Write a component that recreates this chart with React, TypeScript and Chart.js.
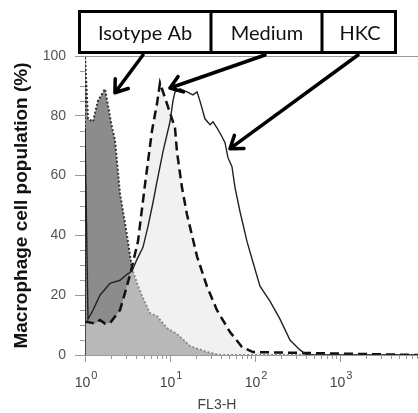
import React, { useEffect, useRef } from "react";
import { Chart, registerables } from "chart.js";

Chart.register(...registerables);

// ---- Data (FL3-H fluorescence vs % of macrophage population) ----
const isotypeX = [1, 1, 1.085, 1.24, 1.42, 1.72, 2.08, 2.25, 2.58, 3.12, 3.57, 4.09, 4.81, 5.82, 7.03, 9.22, 12.1, 17.2, 27.2, 38.7, 8280];
const isotypeY = [0, 100, 79, 78, 85, 89, 76, 72, 54, 40, 29, 24, 19, 14, 13, 9, 7, 3, 1, 0, 0];

const mediumX = [1, 1.085, 1.31, 1.5, 1.72, 1.97, 2.58, 2.95, 3.38, 4.2, 5.08, 6.14, 7.03, 7.63, 9.22, 11.45, 12.08, 13.84, 15.85, 20.8, 27.2, 35.7, 50.8, 70.3, 94.7, 8280];
const mediumY = [11, 11, 10.5, 11.7, 10.5, 10.7, 15, 20.7, 26.7, 38, 57, 75, 84, 91, 84, 76, 68, 56, 47, 33, 23, 15, 7.7, 2.7, 1, 0];

const hkcX = [1, 1, 1.085, 1.242, 1.5, 1.72, 1.97, 2.58, 3.12, 3.57, 4.09, 4.81, 5.51, 6.31, 7.03, 8.27, 10, 10.84, 11.45, 13.11, 15.85, 18.6, 20.8, 22.5, 25.8, 29.6, 32.1, 35.7, 40.9, 44.4, 48.1, 53.6, 58.2, 66.6, 80.5, 94.7, 114.5, 150, 197, 258, 338, 409, 8280];
const hkcY = [0, 76, 12, 15, 20, 22, 24, 25, 27, 28, 32, 36, 43, 51, 58, 68, 78, 85, 88, 89, 88, 87, 88, 85, 79, 77, 78, 76, 73, 71, 66, 63, 56, 48, 38, 31, 23, 18, 12, 5, 1.7, 0, 0];

const legendLabels = ["Isotype Ab", "Medium", "HKC"];
const arrowTargetX = [2.25, 10, 50.8];
const arrowTargetY = [87.7, 89.3, 69];

const xMajorTicks = [1, 10, 100, 1000];
const xTickExponents = ["0", "1", "2", "3"];
const yMin = 0;
const yMax = 100;
const xMin = 1;
const xMax = 8280;

const pts = (xs: number[], ys: number[]) => xs.map((x, i) => ({ x, y: ys[i] }));

const SANS = "'Liberation Sans', Arial, sans-serif";

const overlayPlugin = {
  id: "overlay",
  afterDraw(chart: any) {
    const ctx = chart.ctx as CanvasRenderingContext2D;
    const { left, right, top, bottom } = chart.chartArea;
    const xs = chart.scales.x;
    const ys = chart.scales.y;
    ctx.save();

    // top border of plot frame
    ctx.strokeStyle = "#999";
    ctx.lineWidth = 1;
    ctx.beginPath();
    ctx.moveTo(left, Math.round(top) + 0.5);
    ctx.lineTo(right, Math.round(top) + 0.5);
    ctx.stroke();

    // y minor ticks
    ctx.beginPath();
    for (let v = yMin + 5; v < yMax; v += 5) {
      if (v % 20 === 0) continue;
      const py = Math.round(ys.getPixelForValue(v)) + 0.5;
      ctx.moveTo(left - 5, py);
      ctx.lineTo(left, py);
    }
    ctx.stroke();

    // x ticks (log decades)
    ctx.beginPath();
    for (const d of xMajorTicks) {
      for (let m = 1; m <= 9; m++) {
        const v = d * m;
        if (v > xMax) break;
        const px = Math.round(xs.getPixelForValue(v)) + 0.5;
        const len = m === 1 ? 7 : 4;
        ctx.moveTo(px, bottom);
        ctx.lineTo(px, bottom + len);
      }
    }
    ctx.stroke();

    // x tick labels 10^n
    ctx.fillStyle = "#444";
    ctx.textBaseline = "alphabetic";
    xMajorTicks.forEach((v, i) => {
      const px = xs.getPixelForValue(v);
      ctx.font = `14px ${SANS}`;
      const w1 = ctx.measureText("10").width;
      ctx.font = `11px ${SANS}`;
      const w2 = ctx.measureText(xTickExponents[i]).width;
      const x0 = px + 1 - (w1 + w2 + 1) / 2;
      ctx.font = `14px ${SANS}`;
      ctx.textAlign = "left";
      ctx.fillText("10", x0, 387);
      ctx.font = `11px ${SANS}`;
      ctx.fillText(xTickExponents[i], x0 + w1 + 1, 379);
    });

    // x title
    ctx.font = `14px ${SANS}`;
    ctx.textAlign = "center";
    ctx.fillStyle = "#444";
    ctx.fillText("FL3-H", 217, 409);

    // legend boxes
    const edges = [78, 211, 322, 397];
    const bTop = 11.5;
    const bBot = 52.5;
    ctx.fillStyle = "#fff";
    ctx.fillRect(edges[0], bTop, edges[3] - edges[0], bBot - bTop);
    ctx.strokeStyle = "#000";
    ctx.lineWidth = 3;
    ctx.strokeRect(edges[0] + 1.5, bTop, edges[3] - edges[0] - 3, bBot - bTop);
    ctx.beginPath();
    ctx.moveTo(edges[1], bTop);
    ctx.lineTo(edges[1], bBot);
    ctx.moveTo(edges[2], bTop);
    ctx.lineTo(edges[2], bBot);
    ctx.stroke();

    ctx.fillStyle = "#111";
    ctx.font = `20px Lato, ${SANS}`;
    ctx.textAlign = "center";
    ctx.textBaseline = "alphabetic";
    legendLabels.forEach((lab, i) => {
      const cx = (edges[i] + edges[i + 1]) / 2 + 0.5;
      ctx.fillText(lab, cx, 40);
    });

    // arrows
    const starts = [
      [143, 55],
      [265, 55],
      [358, 55],
    ];
    ctx.strokeStyle = "#000";
    ctx.lineWidth = 3.5;
    ctx.lineCap = "round";
    ctx.lineJoin = "round";
    legendLabels.forEach((_, i) => {
      const tx = xs.getPixelForValue(arrowTargetX[i]);
      const ty = ys.getPixelForValue(arrowTargetY[i]);
      const [sx, sy] = starts[i];
      const ang = Math.atan2(ty - sy, tx - sx);
      const headLen = 14;
      const spread = 0.62;
      ctx.beginPath();
      ctx.moveTo(sx, sy);
      ctx.lineTo(tx, ty);
      ctx.moveTo(tx - headLen * Math.cos(ang - spread), ty - headLen * Math.sin(ang - spread));
      ctx.lineTo(tx, ty);
      ctx.lineTo(tx - headLen * Math.cos(ang + spread), ty - headLen * Math.sin(ang + spread));
      ctx.stroke();
    });

    ctx.restore();
  },
};

export default function App() {
  const ref = useRef<HTMLCanvasElement | null>(null);

  useEffect(() => {
    if (!ref.current) return;
    const chart = new Chart(ref.current, {
      type: "line",
      data: {
        datasets: [
          {
            label: "Isotype Ab",
            data: pts(isotypeX, isotypeY),
            borderColor: "#333",
            borderWidth: 2,
            borderDash: [2, 2],
            backgroundColor: "#8c8c8c",
            fill: "origin",
            pointRadius: 0,
            tension: 0,
            order: 3,
          },
          {
            label: "Medium",
            data: pts(mediumX, mediumY),
            borderColor: "#111",
            borderWidth: 2.5,
            borderDash: [9, 5],
            backgroundColor: "rgba(228,228,228,0.5)",
            fill: "origin",
            pointRadius: 0,
            tension: 0,
            order: 2,
          },
          {
            label: "HKC",
            data: pts(hkcX, hkcY),
            borderColor: "#222",
            borderWidth: 1.4,
            fill: false,
            pointRadius: 0,
            tension: 0,
            order: 1,
          },
        ],
      },
      options: {
        responsive: false,
        animation: false,
        devicePixelRatio: 1,
        layout: { padding: { top: 56, right: 0, left: 0, bottom: 0 } },
        plugins: { legend: { display: false }, tooltip: { enabled: false } },
        scales: {
          x: {
            type: "logarithmic",
            min: xMin,
            max: xMax,
            ticks: { display: false },
            grid: { display: false },
            border: { display: true, color: "#999", width: 1 },
            afterFit: (s: any) => {
              s.height = 58;
            },
          },
          y: {
            type: "linear",
            min: yMin,
            max: yMax,
            ticks: {
              stepSize: 20,
              color: "#555",
              padding: 9,
              font: { size: 14, family: SANS },
            },
            grid: { drawOnChartArea: false, tickLength: 10, color: "#999" },
            border: { display: true, color: "#999", width: 1 },
            title: {
              display: true,
              text: "Macrophage cell population (%)",
              color: "#111",
              font: { size: 19, weight: "bold", family: SANS },
              padding: { top: 10.6, bottom: 0 },
            },
            afterFit: (s: any) => {
              s.width = 85;
            },
          },
        },
      },
      plugins: [overlayPlugin],
    } as any);
    return () => chart.destroy();
  }, []);

  return (
    <div style={{ position: "fixed", left: 0, top: 0, width: 418, height: 413, background: "#fff" }}>
      <canvas ref={ref} width={418} height={413} />
    </div>
  );
}
